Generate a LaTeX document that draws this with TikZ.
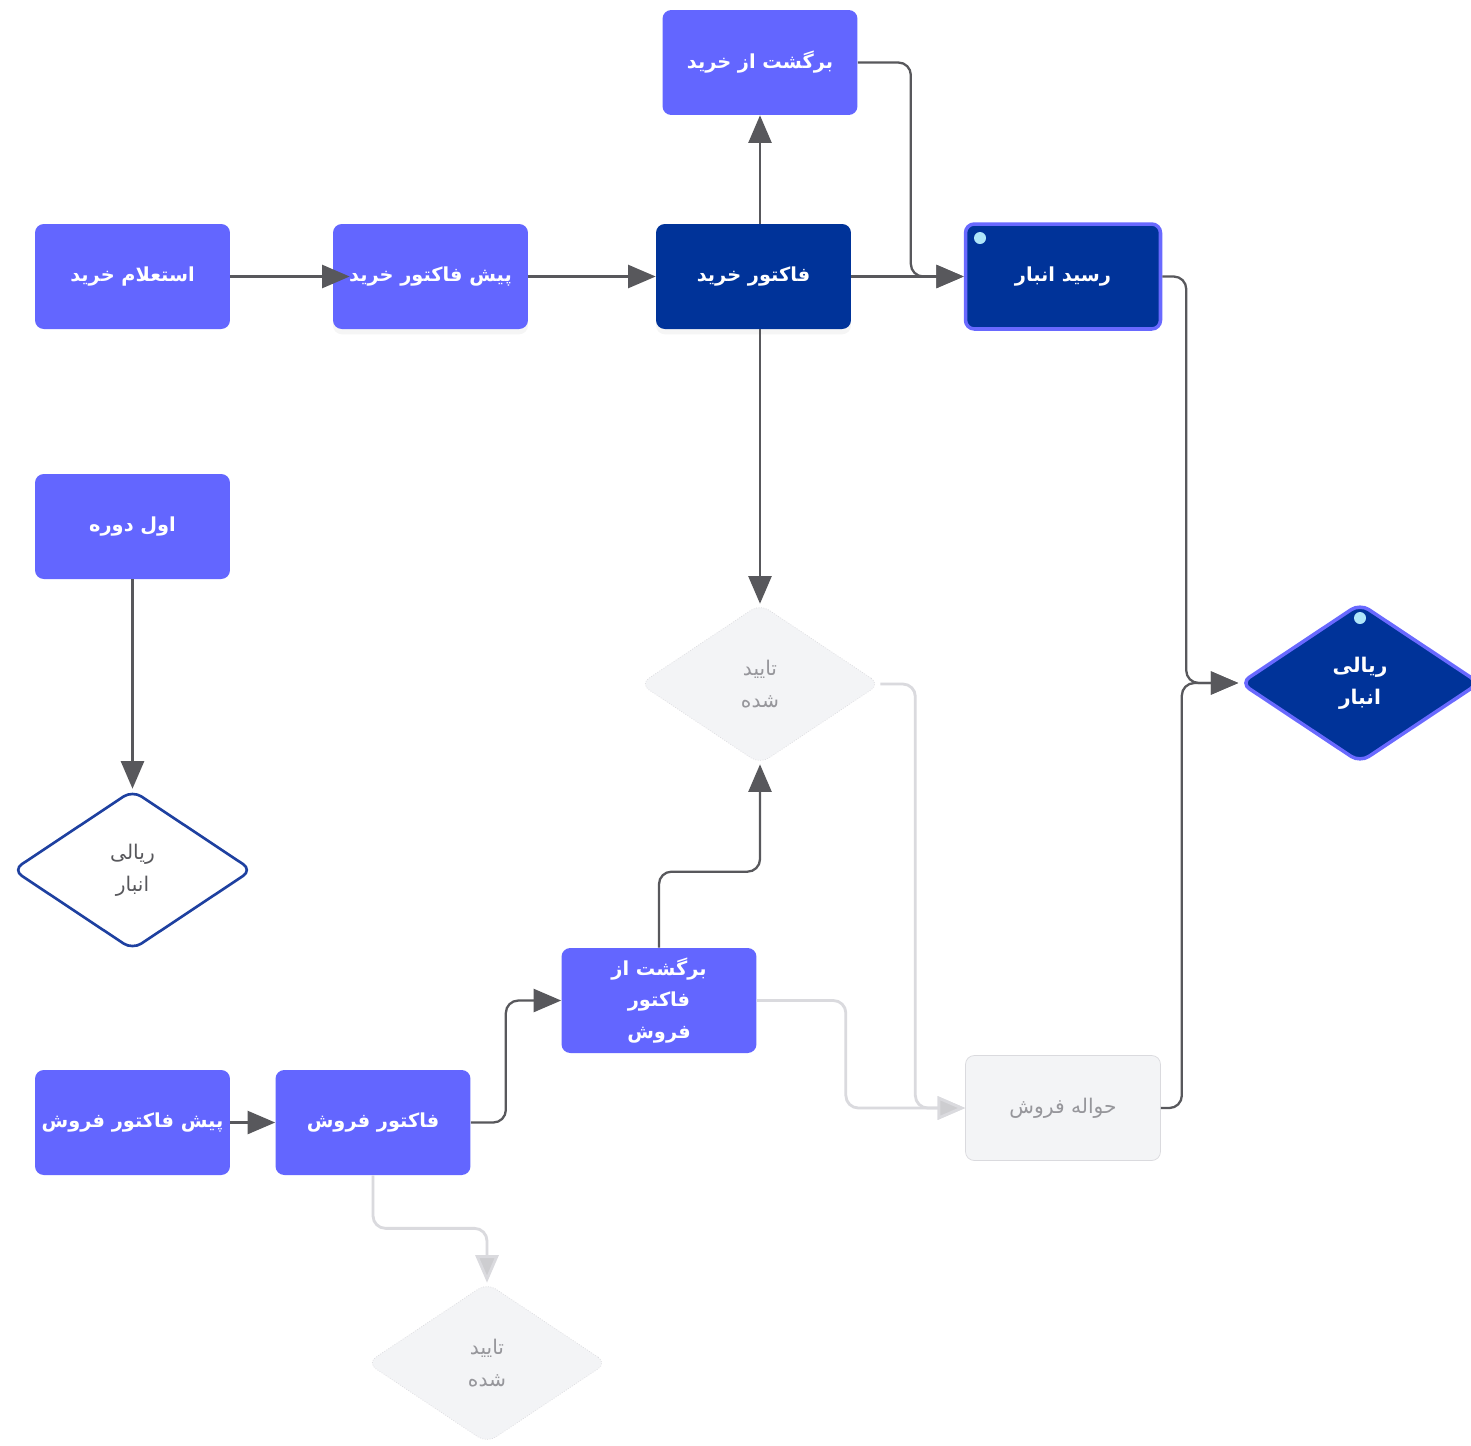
\documentclass[tikz,border=0pt]{standalone}
\usepackage{fontspec}
\newfontfamily\fa[Script=Arabic]{DejaVu Sans}
\TeXXeTstate=1
\usetikzlibrary{shapes.geometric,arrows.meta,shadows}
\definecolor{midblue}{RGB}{99,102,255}
\definecolor{deepblue}{RGB}{0,51,153}
\definecolor{glowblue}{RGB}{105,105,255}
\definecolor{palefill}{RGB}{243,244,246}
\definecolor{paleline}{RGB}{218,218,222}
\definecolor{paletip}{RGB}{205,205,208}
\definecolor{greytext}{RGB}{150,150,155}
\definecolor{wiregrey}{RGB}{88,88,92}
\definecolor{rimblue}{RGB}{30,64,160}
\definecolor{dotcyan}{RGB}{175,230,250}
\tikzset{
  box/.style={rectangle,rounded corners=5pt,fill=midblue,text=white,
    minimum width=3.9cm,minimum height=2.1cm,inner sep=0pt,align=center,
    font=\fa\bfseries\fontsize{11}{18}\selectfont},
  darkbox/.style={box,fill=deepblue},
  palebox/.style={box,fill=palefill,draw=paleline,text=greytext,
    font=\fa\fontsize{11.5}{18}\selectfont},
  decision/.style={diamond,rounded corners=6pt,minimum width=4.8cm,
    minimum height=3.2cm,inner sep=0pt,align=center,
    font=\fa\fontsize{11.5}{18}\selectfont},
  softshadow/.style={drop shadow={opacity=0.08,shadow xshift=0pt,shadow yshift=-3pt}},
  wire/.style={draw=wiregrey,line width=1.3pt,rounded corners=0.25cm,
    -{Triangle[length=0.55cm,width=0.46cm]}},
  palewire/.style={draw=paleline,line width=1.6pt,rounded corners=0.25cm,
    -{Triangle[length=0.55cm,width=0.46cm,fill=paletip]}},
  cyandot/.style={circle,fill=dotcyan,inner sep=0pt,minimum size=0.24cm}
}
\begin{document}
\begin{tikzpicture}[x=0.02cm,y=-0.02cm]
\useasboundingbox[fill=white] (0,0) rectangle (1471,1445);
% purchase row
\node[box] (inq) at (132.5,276.5) {\beginR استعلام خرید\endR};
\node[box,softshadow] (preb) at (430.5,276.5) {\beginR پیش فاکتور خرید\endR};
\node[darkbox,softshadow] (buy) at (753.5,276.5) {\beginR فاکتور خرید\endR};
\node[box] (retb) at (760,62.5) {\beginR برگشت از خرید\endR};
\node[darkbox,draw=glowblue,line width=2pt] (rec) at (1063,276.5) {\beginR رسید انبار\endR};
\node[cyandot] (recdot) at (980,238) {};
\node[decision,fill=deepblue,draw=glowblue,line width=2pt,text=white,
  font=\fa\bfseries\fontsize{11.5}{18}\selectfont] (rial) at (1360,683)
  {\beginR ریالی\endR\\\beginR انبار\endR};
\node[cyandot] (rialdot) at (1360,618) {};
% opening
\node[box] (open) at (132.5,526.5) {\beginR اول دوره\endR};
\node[decision,fill=white,draw=rimblue,line width=1.5pt,text=wiregrey] (rial2) at (132.5,870)
  {\beginR ریالی\endR\\\beginR انبار\endR};
% approvals
\node[decision,fill=palefill,draw=paleline,densely dotted,text=greytext] (ok1) at (760,684)
  {\beginR تایید\endR\\\beginR شده\endR};
\node[decision,fill=palefill,draw=paleline,densely dotted,text=greytext] (ok2) at (487,1363)
  {\beginR تایید\endR\\\beginR شده\endR};
% sales row
\node[box] (pres) at (132.5,1122.5) {\beginR پیش فاکتور فروش\endR};
\node[box] (sale) at (373,1122.5) {\beginR فاکتور فروش\endR};
\node[box] (rets) at (659,1000.5) {\beginR برگشت از\endR\\\beginR فاکتور\endR\\\beginR فروش\endR};
\node[palebox] (hav) at (1063,1108) {\beginR حواله فروش\endR};
% connectors
\draw[palewire] (rets.east) -- ++(89,0) |- (hav.west);
\draw[palewire] (ok1.east) -- ++(35,0) |- (hav.west);
\draw[palewire] (sale.south) -- ++(0,53) -| (ok2.north);
\draw[wire,shorten >=-0.34cm] (inq.east) -- (preb.west);
\draw[wire] (preb.east) -- (buy.west);
\draw[wire] (retb.south |- buy.north) -- (retb.south);
\draw[wire] (buy.east) -- (rec.west);
\draw[wire] (retb.east) -- ++(53,0) |- (rec.west);
\draw[wire] (ok1.north |- buy.south) -- (ok1.north);
\draw[wire] (rec.east) -- ++(24,0) |- (rial.west);
\draw[wire] (hav.east) -- ++(21,0) |- (rial.west);
\draw[wire] (open.south) -- (rial2.north);
\draw[wire] (pres.east) -- (sale.west);
\draw[wire] (sale.east) -- ++(35,0) |- (rets.west);
\draw[wire] (rets.north) -- ++(0,-76) -| (ok1.south);
\end{tikzpicture}
\end{document}
